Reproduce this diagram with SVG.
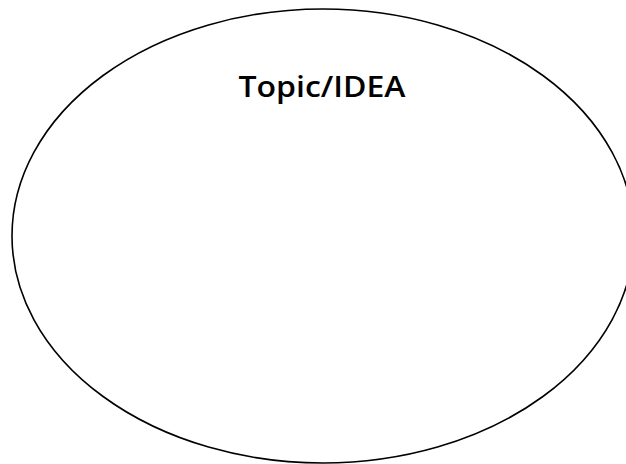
<svg xmlns="http://www.w3.org/2000/svg" width="626" height="464" viewBox="0 0 626 464">
<style>
.shape{fill:#fff;stroke:#000;stroke-width:1.6}
.label{font-family:"Open Sans","Liberation Sans",sans-serif;font-weight:600;font-size:28px;fill:#000;text-anchor:middle}
</style>
<rect width="626" height="464" fill="#fff"/>
<g id="topic">
<ellipse class="shape" cx="323" cy="236" rx="311" ry="227"/>
<text class="label" x="322" y="97" textLength="167" lengthAdjust="spacingAndGlyphs">Topic/IDEA</text>
</g>
<g id="connectors"/>
</svg>
